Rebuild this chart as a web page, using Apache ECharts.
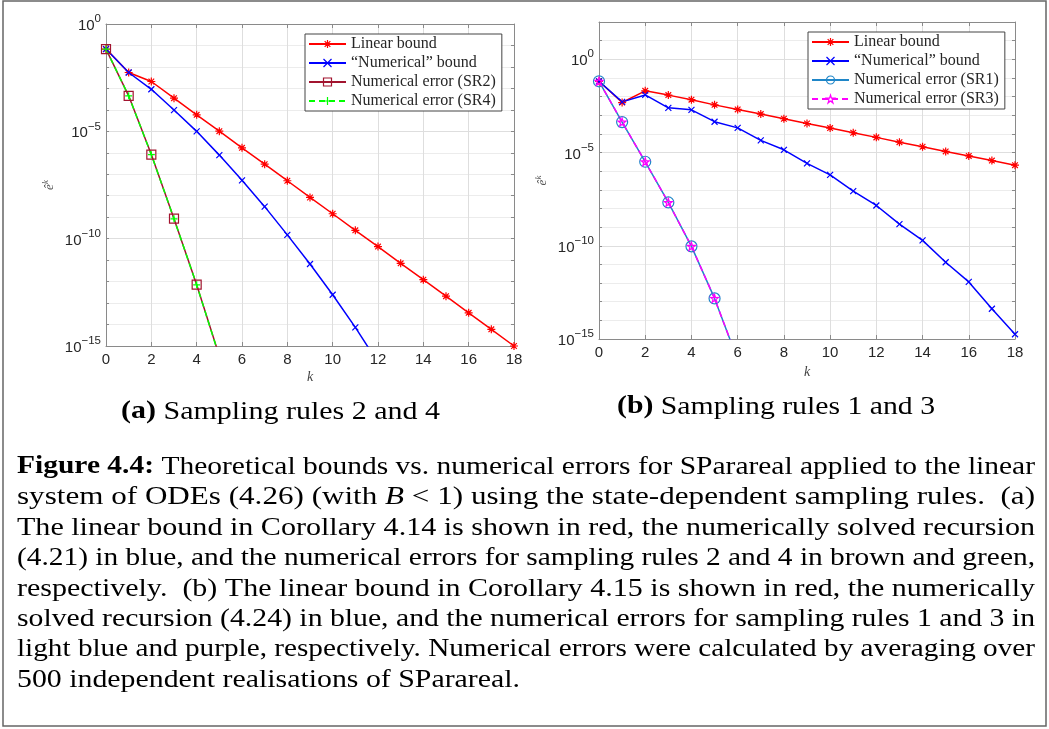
<!DOCTYPE html>
<html>
<head>
<meta charset="utf-8">
<script src="https://cdn.jsdelivr.net/npm/echarts@6/dist/echarts.min.js"></script>
<style>html,body{margin:0;padding:0;background:#fff;}#c{width:1049px;height:729px;}</style>
</head>
<body>
<div id="c"></div>
<script>
// ---------------- data ----------------
const kValues = [0,1,2,3,4,5,6,7,8,9,10,11,12,13,14,15,16,17,18];

// (a) Sampling rules 2 and 4
const aLinearBound = [6.8e-2,5.5e-3,2.1e-3,3.5e-4,5.9e-5,1.02e-5,1.7e-6,2.95e-7,5.0e-8,8.3e-9,1.45e-9,2.45e-10,4.3e-11,7.1e-12,1.23e-12,2.1e-13,3.5e-14,6.0e-15,1.0e-15];
const aNumericalBound = [6.8e-2,5.5e-3,9.1e-4,9.8e-5,1.0e-5,7.8e-7,5.2e-8,3.1e-9,1.5e-10,6.6e-12,2.45e-13,7.4e-15,1.7e-16];
const aErrorSR2 = [6.8e-2,4.5e-4,8.3e-7,8.5e-10,7.2e-13,3.4e-16];
const aErrorSR4 = [6.8e-2,4.5e-4,8.2e-7,8.4e-10,7.1e-13,3.2e-16];

// (b) Sampling rules 1 and 3
const bLinearBound = [6.6e-2,4.8e-3,2.04e-2,1.2e-2,6.8e-3,3.6e-3,2.04e-3,1.15e-3,6.5e-4,3.6e-4,2.04e-4,1.15e-4,6.5e-5,3.6e-5,2.04e-5,1.15e-5,6.6e-6,3.7e-6,2.1e-6];
const bNumericalBound = [6.6e-2,5.2e-3,1.23e-2,2.5e-3,1.95e-3,4.5e-4,2.1e-4,4.5e-5,1.4e-5,2.6e-6,6.3e-7,8.5e-8,1.45e-8,1.45e-9,1.95e-10,1.3e-11,1.15e-12,4.2e-14,1.8e-15];
const bErrorSR1 = [6.6e-2,4.3e-4,3.2e-6,2.1e-8,9.3e-11,1.5e-13,7.6e-17];
const bErrorSR3 = [6.6e-2,4.3e-4,3.2e-6,2.1e-8,9.3e-11,1.5e-13,7.6e-17];

const yLabelExponents = [-15,-10,-5,0];
const legendA = ['Linear bound','\u201cNumerical\u201d bound','Numerical error (SR2)','Numerical error (SR4)'];
const legendB = ['Linear bound','\u201cNumerical\u201d bound','Numerical error (SR1)','Numerical error (SR3)'];
const subCaptionA = [{s:'b',t:'(a)'},{s:'n',t:' Sampling rules 2 and 4'}];
const subCaptionB = [{s:'b',t:'(b)'},{s:'n',t:' Sampling rules 1 and 3'}];
const captionLines = [
  [{s:'b',t:'Figure 4.4:'},{s:'n',t:' Theoretical bounds vs. numerical errors for SParareal applied to the linear'}],
  [{s:'n',t:'system of ODEs (4.26) (with '},{s:'i',t:'B'},{s:'n',t:' < 1) using the state-dependent sampling rules.  (a)'}],
  [{s:'n',t:'The linear bound in Corollary 4.14 is shown in red, the numerically solved recursion'}],
  [{s:'n',t:'(4.21) in blue, and the numerical errors for sampling rules 2 and 4 in brown and green,'}],
  [{s:'n',t:'respectively.  (b) The linear bound in Corollary 4.15 is shown in red, the numerically'}],
  [{s:'n',t:'solved recursion (4.24) in blue, and the numerical errors for sampling rules 1 and 3 in'}],
  [{s:'n',t:'light blue and purple, respectively. Numerical errors were calculated by averaging over'}],
  [{s:'n',t:'500 independent realisations of SParareal.'}]
];

// ---------------- styling helpers ----------------
function starPath(){
  let s='path://';
  for(let i=0;i<10;i++){const a=(-90+36*i)*Math.PI/180;const r=i%2?1.9:5;
    s+=(i?'L':'M')+(5+r*Math.cos(a)).toFixed(3)+','+(5+r*Math.sin(a)).toFixed(3);}
  return s+'Z';
}
const SYM = {
  asterisk:'path://M0,5L10,5M5,0L5,10M1.46,1.46L8.54,8.54M1.46,8.54L8.54,1.46',
  cross:'path://M0,0L10,10M0,10L10,0',
  plus:'path://M0,5L10,5M5,0L5,10',
  square:'path://M0,0L10,0L10,10L0,10Z',
  circle:'path://M0,5A5,5,0,1,1,10,5A5,5,0,1,1,0,5Z',
  star:starPath()
};
const RED='#ff0000', BLUE='#0000ff', BROWN='#a2142f', GREEN='#00ff00', LBLUE='#1f86c8', MAG='#ff00ff';
const AX='#8a8a8a', LAB='#262626';

function mk(name, g, vals, color, symbol, size, dash, bw){
  return {
    name:name, type:'line', xAxisIndex:g*2, yAxisIndex:g*2,
    data: vals.map((v,i)=>[kValues[i], Math.log10(v)]),
    symbol:symbol, symbolSize:size, showSymbol:true, showAllSymbol:true,
    lineStyle:{color:color, width:1.5, type:dash},
    itemStyle:{color:'none', borderColor:color, borderWidth:bw||1.2},
    clip:true, silent:true, animation:false
  };
}

function yLabelFmt(v){
  if (yLabelExponents.indexOf(v) < 0) return '';
  return '{b|10}{s|' + String(v).replace('-', '\u2212') + '}';
}

function makeAxes(g, ymax, nameGapX){
  const xMain = {type:'value', gridIndex:g, min:0, max:18, interval:2, position:'bottom',
    axisLine:{show:true, onZero:false, lineStyle:{color:AX, width:1}},
    axisTick:{show:true, inside:true, length:4, lineStyle:{color:AX}},
    axisLabel:{color:LAB, fontSize:15, fontFamily:'Liberation Sans', margin:6},
    splitLine:{show:true, lineStyle:{color:'#dedede', width:1}},
    name:'k', nameLocation:'middle', nameGap:nameGapX,
    nameTextStyle:{fontFamily:'Liberation Serif', fontStyle:'italic', fontSize:14, color:'#444'}};
  const xTop = {type:'value', gridIndex:g, min:0, max:18, interval:2, position:'top',
    axisLine:{show:true, onZero:false, lineStyle:{color:AX, width:1}},
    axisTick:{show:true, inside:true, length:4, lineStyle:{color:AX}},
    axisLabel:{show:false}, splitLine:{show:false}};
  const yMain = {type:'value', gridIndex:g, min:-15, max:ymax, interval:1, position:'left',
    axisLine:{show:true, onZero:false, lineStyle:{color:AX, width:1}},
    axisTick:{show:true, inside:true, length:3, lineStyle:{color:AX}},
    axisLabel:{formatter:yLabelFmt, margin:5, color:LAB,
      rich:{b:{fontSize:15, fontFamily:'Liberation Sans', color:LAB, padding:[4,0,0,0]},
            s:{fontSize:11.5, fontFamily:'Liberation Sans', color:LAB, padding:[0,0,10,0]}}},
    splitLine:{show:true, lineStyle:{color:['#dedede','#ececec','#ececec','#ececec','#ececec'], width:1}},
    name:'{e|\u00ea}{s|k}', nameLocation:'middle', nameGap:48,
    nameTextStyle:{color:'#555', rich:{e:{fontFamily:'Liberation Serif', fontStyle:'italic', fontSize:13, color:'#555'},
      s:{fontFamily:'Liberation Serif', fontStyle:'italic', fontSize:9, color:'#555', padding:[0,0,8,0]}}}};
  const yRight = {type:'value', gridIndex:g, min:-15, max:ymax, interval:1, position:'right',
    axisLine:{show:true, onZero:false, lineStyle:{color:AX, width:1}},
    axisTick:{show:true, inside:true, length:3, lineStyle:{color:AX}},
    axisLabel:{show:false}, splitLine:{show:false}};
  return {x:[xMain,xTop], y:[yMain,yRight]};
}

const axA = makeAxes(0, 0, 24);
const axB = makeAxes(1, 2, 26);

// ---------------- caption text layout ----------------
const CAP_FONT='Liberation Serif', CAP_SIZE=25;
const cv=document.createElement('canvas').getContext('2d');
function segFont(s){return (s==='b'?'bold ':s==='i'?'italic ':'')+CAP_SIZE+'px "'+CAP_FONT+'"';}
function measureSegs(segs){let w=0;segs.forEach(sg=>{cv.font=segFont(sg.s);w+=cv.measureText(sg.t).width;});return w;}
function richStr(segs){return segs.map(sg=>sg.s==='n'?sg.t:'{'+sg.s+'|'+sg.t+'}').join('');}
const capRich = {
  b:{fontWeight:'bold', fontSize:CAP_SIZE, fontFamily:CAP_FONT, fill:'#000'},
  i:{fontStyle:'italic', fontSize:CAP_SIZE, fontFamily:CAP_FONT, fill:'#000'}
};
function textEl(segs, left, cy, width){
  const w = measureSegs(segs);
  return {type:'text', x:left, y:cy, scaleX: width/w, originX:0, originY:0, silent:true, z:10,
    style:{text:richStr(segs), fill:'#000', fontSize:CAP_SIZE, fontFamily:CAP_FONT,
      align:'left', verticalAlign:'middle', rich:capRich}};
}
const graphics = [
  {type:'rect', shape:{x:3, y:1, width:1043, height:725}, style:{fill:'none', stroke:'#666', lineWidth:1.5}, silent:true, z:0},
  textEl(subCaptionA, 121, 412, 319),
  textEl(subCaptionB, 617, 407, 318)
];
const capTops = [467,497,528,558,589,619,649,680];
captionLines.forEach((segs,i)=>{
  graphics.push(textEl(segs, 17, capTops[i], i===captionLines.length-1 ? 503 : 1018));
});

// ---------------- option ----------------
const legendCommon = {orient:'vertical', itemWidth:37, itemHeight:10, itemGap:3,
  padding:[2,6,2,3], backgroundColor:'#fff', borderColor:'#444', borderWidth:1, borderRadius:0,
  textStyle:{fontFamily:'Liberation Serif', fontSize:16, color:LAB},
  itemStyle:{borderWidth:1.2}, selectedMode:false, z:20};

const option = {
  animation:false,
  backgroundColor:'#fff',
  grid:[
    {left:106, top:24, width:408, height:322, containLabel:false},
    {left:599, top:22, width:416, height:317, containLabel:false}
  ],
  xAxis:[axA.x[0], axA.x[1], axB.x[0], axB.x[1]],
  yAxis:[axA.y[0], axA.y[1], axB.y[0], axB.y[1]],
  legend:[
    Object.assign({}, legendCommon, {data:legendA, left:305, top:34}),
    Object.assign({}, legendCommon, {data:legendB, left:808, top:32})
  ],
  series:[
    mk(legendA[0], 0, aLinearBound, RED, SYM.asterisk, 8, 'solid'),
    mk(legendA[1], 0, aNumericalBound, BLUE, SYM.cross, 6, 'solid'),
    mk(legendA[2], 0, aErrorSR2, BROWN, SYM.square, 9, 'solid'),
    mk(legendA[3], 0, aErrorSR4, GREEN, SYM.plus, 7, [6,4]),
    mk(legendB[0], 1, bLinearBound, RED, SYM.asterisk, 8, 'solid'),
    mk(legendB[1], 1, bNumericalBound, BLUE, SYM.cross, 6, 'solid'),
    mk(legendB[2], 1, bErrorSR1, LBLUE, SYM.circle, 11, 'solid'),
    mk(legendB[3], 1, bErrorSR3, MAG, SYM.star, 8, [6,4])
  ],
  graphic: graphics
};

const chart = echarts.init(document.getElementById('c'), null, {renderer:'canvas'});
chart.setOption(option);
</script>
</body>
</html>
